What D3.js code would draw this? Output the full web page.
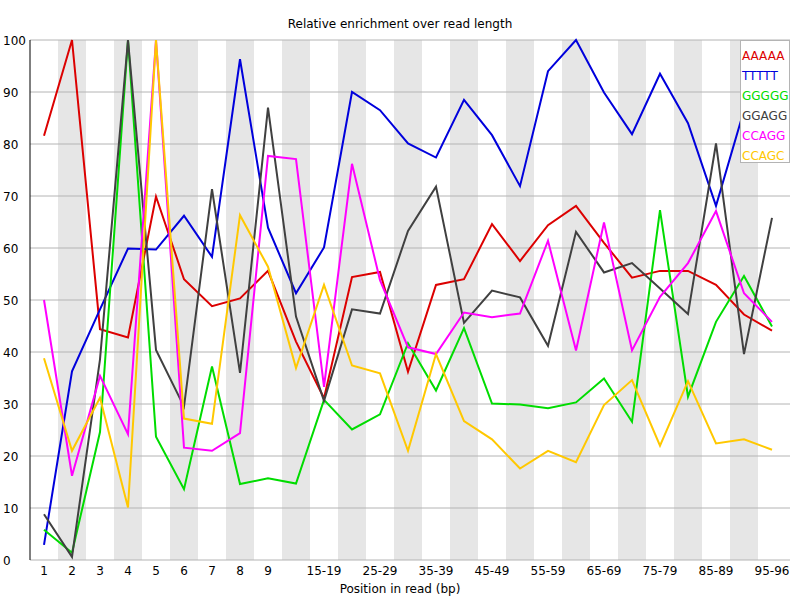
<!DOCTYPE html>
<html>
<head>
<style>
    body { margin: 0; background: #fff; }
    text { font-family: "DejaVu Sans", sans-serif; font-size: 12px; fill: #000; }
    .line { fill: none; stroke-width: 2; stroke-linejoin: miter; }
</style>
</head>
<body>
    <svg id="container" width="800" height="600"></svg>
</body>
<script src="https://d3js.org/d3.v7.min.js"></script>
<script>
    // categories along the read
    let categories = ["1", "2", "3", "4", "5", "6", "7", "8", "9", "10-14", "15-19", "20-24", "25-29",
        "30-34", "35-39", "40-44", "45-49", "50-54", "55-59", "60-64", "65-69", "70-74", "75-79",
        "80-84", "85-89", "90-94", "95-96"];
    let shownLabels = ["1", "2", "3", "4", "5", "6", "7", "8", "9", "15-19", "25-29", "35-39",
        "45-49", "55-59", "65-69", "75-79", "85-89", "95-96"];
    let yTicks = [0, 10, 20, 30, 40, 50, 60, 70, 80, 90, 100];

    let kmerNames = ["AAAAA", "TTTTT", "GGGGG", "GGAGG", "CCAGG", "CCAGC"];
    let kmerColors = ["#dc0000", "#0000dc", "#00dc00", "#404040", "#ff00ff", "#ffc800"];

    let aaaaa = [81.6, 100, 44.4, 42.8, 69.9, 54.0, 48.8, 50.3, 55.6, 42.0, 31.1, 54.4, 55.4, 36.2,
        52.9, 54.0, 64.6, 57.5, 64.4, 68.1, 61.0, 54.3, 55.6, 55.6, 52.9, 47.2, 44.1];
    let ttttt = [2.9, 36.3, 48.2, 59.9, 59.7, 66.2, 58.3, 96.3, 63.9, 51.3, 60.1, 90.0, 86.5, 80.1,
        77.4, 88.5, 81.7, 71.9, 94.0, 100, 89.9, 81.9, 93.5, 84.0, 68.1, 86.5, 85.0];
    let ggggg = [5.8, 1.4, 24.6, 100, 23.7, 13.6, 37.2, 14.6, 15.7, 14.7, 30.8, 25.1, 28.0, 41.7,
        32.6, 44.6, 30.1, 29.9, 29.2, 30.3, 34.9, 26.6, 67.3, 31.4, 45.8, 54.6, 44.9];
    let ggagg = [8.8, 0.6, 38.6, 100, 40.4, 29.5, 71.3, 36.0, 87.0, 46.8, 30.6, 48.2, 47.4, 63.3,
        71.8, 45.6, 51.8, 50.5, 41.2, 63.1, 55.3, 57.1, 52.2, 47.3, 80.1, 39.6, 65.8];
    let ccagg = [50.0, 16.2, 35.4, 24.2, 100, 21.6, 21.0, 24.4, 77.7, 77.1, 33.3, 76.2, 53.8, 40.9,
        39.6, 47.6, 46.7, 47.4, 61.4, 40.3, 64.9, 40.3, 50.6, 57.1, 67.1, 51.3, 45.8];
    let ccagc = [38.8, 21.0, 31.2, 10.1, 100, 27.2, 26.2, 66.3, 56.4, 36.9, 52.9, 37.4, 35.9, 21.0,
        39.6, 26.7, 23.2, 17.6, 21.0, 18.8, 29.8, 34.6, 22.0, 34.4, 22.4, 23.2, 21.2];

    let series = [aaaaa, ttttt, ggggg, ggagg, ccagg, ccagc];

    let svg = d3.select("#container");
    let plotLeft = 30, plotRight = 786, plotTop = 40, plotBottom = 560;

    let xScale = d3.scaleBand()
        .domain(categories)
        .range([plotLeft, plotRight]);
    let yScale = d3.scaleLinear()
        .domain([0, 100])
        .range([plotBottom, plotTop]);

    svg.append("rect").attr("width", 800).attr("height", 600).attr("fill", "#fff");

    // alternating background bands
    svg.append("g").selectAll("rect")
        .data(categories.filter((d, i) => i % 2 == 1))
        .enter()
        .append("rect")
        .attr("x", (d) => xScale(d))
        .attr("y", plotTop)
        .attr("width", xScale.bandwidth())
        .attr("height", plotBottom - plotTop)
        .attr("fill", "#e6e6e6");

    // horizontal grid lines
    svg.append("g").selectAll("line")
        .data(yTicks)
        .enter()
        .append("line")
        .attr("x1", plotLeft)
        .attr("x2", 790)
        .attr("y1", (d) => yScale(d))
        .attr("y2", (d) => yScale(d))
        .attr("stroke", "#b4b4b4");

    svg.append("line")
        .attr("x1", plotLeft).attr("x2", plotLeft)
        .attr("y1", plotTop).attr("y2", plotBottom)
        .attr("stroke", "#000");

    // y labels are left aligned in FastQC
    svg.append("g").selectAll("text")
        .data(yTicks)
        .enter()
        .append("text")
        .attr("x", 3)
        .attr("y", (d) => yScale(d) + 5)
        .text((d) => d);

    svg.append("g").selectAll("text")
        .data(shownLabels)
        .enter()
        .append("text")
        .attr("x", (d) => xScale(d) + xScale.bandwidth() / 2)
        .attr("y", 575)
        .attr("text-anchor", "middle")
        .text((d) => d);

    svg.append("text")
        .attr("x", 400).attr("y", 28)
        .attr("text-anchor", "middle")
        .text("Relative enrichment over read length");

    svg.append("text")
        .attr("x", 400).attr("y", 593)
        .attr("text-anchor", "middle")
        .text("Position in read (bp)");

    let valueline = d3.line()
        .x((d, i) => xScale(categories[i]) + xScale.bandwidth() / 2)
        .y((d) => yScale(d));

    svg.append("g").selectAll("path")
        .data(series)
        .enter()
        .append("path")
        .attr("class", "line")
        .attr("d", valueline)
        .attr("stroke", (d, i) => kmerColors[i]);

    // legend box
    let legend = svg.append("g");
    legend.append("rect")
        .attr("x", 740.5).attr("y", 40.5)
        .attr("width", 49).attr("height", 122)
        .attr("fill", "#fff")
        .attr("stroke", "#b4b4b4");
    legend.selectAll("text")
        .data(kmerNames)
        .enter()
        .append("text")
        .attr("x", 742)
        .attr("y", (d, i) => 60 + i * 20)
        .style("fill", (d, i) => kmerColors[i])
        .text((d) => d);
</script>
</html>
